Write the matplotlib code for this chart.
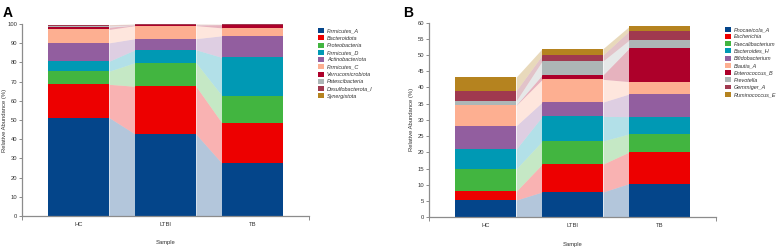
import numpy as np
import matplotlib
matplotlib.use("Agg")
from matplotlib import pyplot as plt
from matplotlib.patches import Patch

plt.rcParams["font.family"] = ["Liberation Sans", "DejaVu Sans"]

samples = ["HC", "LTBI", "TB"]

# panel A - phyla (relative abundance %)
phyla = ["Firmicutes_A", "Bacteroidota", "Proteobacteria", "Firmicutes_D",
         "Actinobacteriota", "Firmicutes_C", "Verrucomicrobiota",
         "Patescibacteria", "Desulfobacterota_I", "Synergistota"]
phyla_hc = [51.3, 17.3, 6.8, 5.2, 9.6, 7.0, 1.2, 0.6, 0.5, 0.2]
phyla_ltbi = [42.7, 24.9, 12.3, 6.7, 5.8, 6.8, 0.2, 0.1, 0.4, 0.1]
phyla_tb = [27.4, 21.0, 14.2, 20.0, 11.3, 4.1, 1.7, 0.05, 0.1, 0.05]

# panel B - genera
genera = ["Phocaeicola_A", "Escherichia", "Faecalibacterium", "Bacteroides_H",
          "Bifidobacterium", "Blautia_A", "Enterococcus_B", "Prevotella",
          "Gemmiger_A", "Ruminococcus_E"]
genera_hc = [5.3, 2.7, 6.9, 6.1, 7.2, 6.3, 0.1, 1.3, 3.1, 4.2]
genera_ltbi = [7.8, 8.6, 7.1, 7.6, 4.4, 7.0, 1.4, 4.3, 1.8, 2.0]
genera_tb = [10.4, 9.7, 5.6, 5.3, 7.0, 3.8, 10.3, 2.5, 2.8, 1.4]

colors = ["#04458a", "#ed0000", "#42b540", "#0099b4", "#925e9f",
          "#fdaf91", "#ad002a", "#adb6b6", "#a0394f", "#b5831f"]

TXT = "#333333"
GRAY = "#8c8c8c"
W = 0.70
FS = 4.2


def alluvial(ax, names, data, ymax, ystep):
    data = np.array(data)  # samples x taxa
    x = np.arange(len(samples))
    bottoms = np.zeros(len(samples))
    for j, name in enumerate(names):
        vals = data[:, j]
        ax.bar(x, vals, W, bottom=bottoms, color=colors[j], linewidth=0)
        tops = bottoms + vals
        # flows between neighbouring bars
        for i in range(len(samples) - 1):
            xs = [x[i] + W / 2, x[i + 1] - W / 2]
            ax.fill_between(xs, [bottoms[i], bottoms[i + 1]], [tops[i], tops[i + 1]],
                            color=colors[j], alpha=0.3, linewidth=0)
        bottoms = tops
    ax.set_xlim(-0.65, 2.65)
    ax.set_ylim(0, ymax)
    ax.set_yticks(np.arange(0, ymax + 0.1, ystep))
    ax.set_xticks(x)
    ax.set_xticklabels(samples)
    ax.set_xticks([-0.65, 2.65], minor=True)
    for s in ["top", "right"]:
        ax.spines[s].set_visible(False)
    for s in ["left", "bottom"]:
        ax.spines[s].set_color(GRAY)
        ax.spines[s].set_linewidth(0.9)
    ax.tick_params(axis="both", colors=GRAY, labelcolor=TXT, labelsize=FS,
                   length=2, width=0.7, pad=1.5)
    ax.tick_params(axis="x", which="major", length=0, pad=4)
    ax.tick_params(axis="x", which="minor", length=3, width=0.7, colors=GRAY)
    ax.set_xlabel("Sample", fontsize=FS, color=TXT, va="center")
    ax.xaxis.set_label_coords(0.5, -0.14)
    ax.set_ylabel("Relative Abundance (%)", fontsize=FS, color=TXT, va="center")
    ax.yaxis.set_label_coords(-0.062, 0.5)
    handles = [Patch(facecolor=colors[j], edgecolor="none", label=n)
               for j, n in enumerate(names)]
    leg = ax.legend(handles=handles, loc="upper left", bbox_to_anchor=(1.025, 0.99),
                    frameon=False, fontsize=4.0, handlelength=1.0, handleheight=1.0,
                    handletextpad=0.5, labelspacing=0.33, borderaxespad=0)
    for t in leg.get_texts():
        t.set_fontstyle("italic")
        t.set_color(TXT)


fig = plt.figure(figsize=(7.8, 2.48), dpi=100)
axA = fig.add_axes([0.0282, 0.129, 0.368, 0.774])
axB = fig.add_axes([0.5504, 0.124, 0.3676, 0.785])

alluvial(axA, phyla, [phyla_hc, phyla_ltbi, phyla_tb], 100, 10)
alluvial(axB, genera, [genera_hc, genera_ltbi, genera_tb], 60, 5)

fig.text(0.003, 0.975, "A", fontsize=10, fontweight="bold", va="top", ha="left")
fig.text(0.517, 0.975, "B", fontsize=10, fontweight="bold", va="top", ha="left")

fig.savefig("out.png", dpi=100)
